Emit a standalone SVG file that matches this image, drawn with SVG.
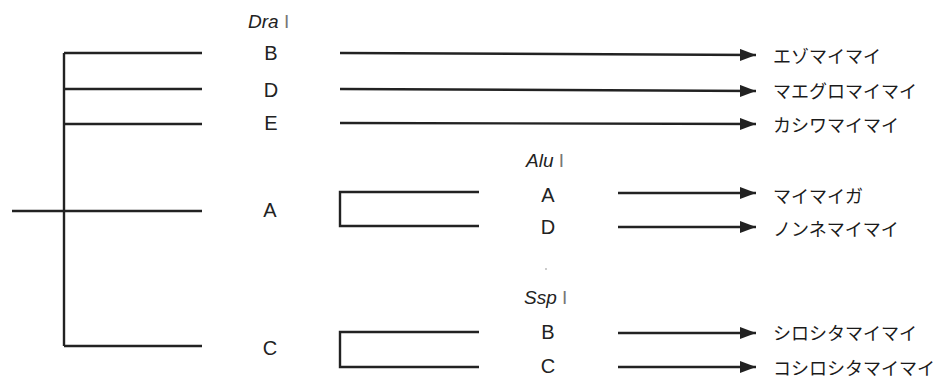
<svg xmlns="http://www.w3.org/2000/svg" width="935" height="380" viewBox="0 0 935 380">
  <style>
    .ln { stroke: #222; stroke-width: 2.4; fill: none; }
    .arr { stroke: #222; stroke-width: 2.4; fill: none; marker-end: url(#head); }
    .lat { font-family: "Liberation Sans", Arial, sans-serif; font-size: 20px; fill: #222; text-anchor: middle; }
    .enz { font-family: "Liberation Sans", Arial, sans-serif; font-size: 19px; fill: #222; font-style: italic; }
    .num { font-style: normal; fill: #777; }
    .jp { font-family: "Noto Sans CJK JP", "Noto Sans", sans-serif; font-size: 18px; fill: #1a1a1a; dominant-baseline: central; }
  </style>
  <defs>
    <marker id="head" markerUnits="userSpaceOnUse" markerWidth="17" markerHeight="13" refX="16" refY="6" orient="auto">
      <path d="M0,0 L16,6 L0,12 Z" fill="#222"/>
    </marker>
  </defs>
  <rect width="935" height="380" fill="#fff"/>

  <!-- tree and brackets -->
  <g id="connectors">
    <path class="ln" d="M64,53 V346"/>
    <path class="ln" d="M64,53 H202"/>
    <path class="ln" d="M64,89 H202"/>
    <path class="ln" d="M64,124 H202"/>
    <path class="ln" d="M12,211 H202"/>
    <path class="ln" d="M64,346 H202"/>

    <path class="ln" d="M479,192 H340 V226 H479"/>
    <path class="ln" d="M479,332 H340 V367 H479"/>

    <path class="arr" d="M340,53 L756,55"/>
    <path class="arr" d="M340,89 L756,91"/>
    <path class="arr" d="M340,123 L756,124"/>
    <path class="arr" d="M618,193 H756"/>
    <path class="arr" d="M618,227 H756"/>
    <path class="arr" d="M618,333 H756"/>
    <path class="arr" d="M618,367 H756"/>
  </g>

  <!-- enzyme headings -->
  <g id="dra">
    <text class="enz" x="248" y="28">Dra <tspan class="num">I</tspan></text>
  </g>
  <g id="alu">
    <text class="enz" x="526" y="167">Alu <tspan class="num">I</tspan></text>
  </g>
  <g id="ssp">
    <text class="enz" x="524" y="304">Ssp <tspan class="num">I</tspan></text>
    <circle cx="546" cy="269" r="1" fill="#bbb"/>
  </g>

  <!-- Dra I types -->
  <g id="dra-b"><text class="lat" x="271" y="60">B</text></g>
  <g id="dra-d"><text class="lat" x="271" y="97">D</text></g>
  <g id="dra-e"><text class="lat" x="271" y="130">E</text></g>
  <g id="dra-a"><text class="lat" x="270" y="217">A</text></g>
  <g id="dra-c"><text class="lat" x="270" y="355">C</text></g>

  <!-- Alu I / Ssp I types -->
  <g id="alu-a"><text class="lat" x="548" y="202">A</text></g>
  <g id="alu-d"><text class="lat" x="548" y="234">D</text></g>
  <g id="ssp-b"><text class="lat" x="548" y="339">B</text></g>
  <g id="ssp-c"><text class="lat" x="548" y="373">C</text></g>

  <!-- species -->
  <g id="sp-ezo"><text class="jp" x="773" y="55">エゾマイマイ</text></g>
  <g id="sp-maeguro"><text class="jp" x="773" y="90">マエグロマイマイ</text></g>
  <g id="sp-kashiwa"><text class="jp" x="773" y="123.5">カシワマイマイ</text></g>
  <g id="sp-maimaiga"><text class="jp" x="773" y="194.5">マイマイガ</text></g>
  <g id="sp-nonne"><text class="jp" x="773" y="227.5">ノンネマイマイ</text></g>
  <g id="sp-shiroshita"><text class="jp" x="773" y="331.5">シロシタマイマイ</text></g>
  <g id="sp-koshiroshita"><text class="jp" x="773" y="366.5">コシロシタマイマイ</text></g>
</svg>
